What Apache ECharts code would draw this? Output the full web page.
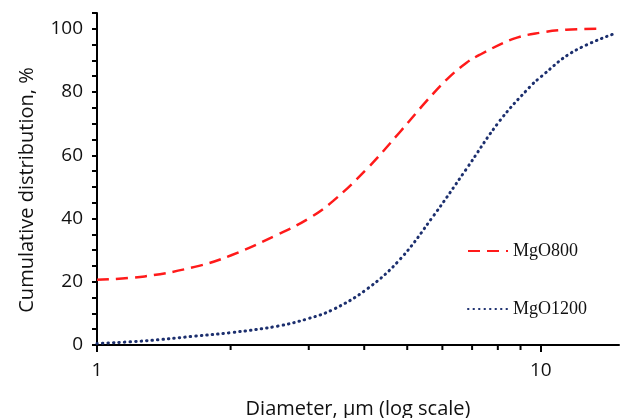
<!DOCTYPE html>
<html>
<head>
<meta charset="utf-8">
<script src="https://cdn.jsdelivr.net/npm/echarts@6/dist/echarts.min.js"></script>
<style>
  html, body { margin: 0; padding: 0; background: #fff; }
  #chart { width: 629px; height: 418px; }
</style>
</head>
<body>
<div id="chart"></div>
<script>
// MgO800
var d800 = [1.00, 1.28, 1.66, 2.00, 2.56, 3.00, 3.40, 4.05, 4.81, 5.53, 6.15, 6.79, 7.29, 8.66, 10.0, 11.4, 13.4]
var v800 = [20.6, 21.7, 24.7, 28.3, 35.0, 40.0, 45.5, 55.6, 67.3, 77.2, 84.1, 89.2, 91.8, 96.8, 98.8, 99.7, 100]
// MgO1200
var d1200 = [1.00, 1.28, 1.66, 2.00, 2.56, 3.00, 3.40, 4.05, 4.81, 5.72, 6.79, 8.08, 9.44, 10.0, 11.8, 14.8]
var v1200 = [0.5, 1.3, 2.8, 3.9, 6.0, 8.4, 11.2, 17.6, 27.0, 40.7, 55.6, 70.9, 81.6, 84.8, 92.7, 98.7]
// minor ticks on the log axis
var minorX = [2, 3, 4, 5, 6, 7, 8, 9]

function pairs(xs, ys) {
  var out = []
  for (var i = 0; i < xs.length; i++) out.push([xs[i], ys[i]])
  return out
}

var sans = '"Open Sans", "DejaVu Sans", sans-serif'
var myChart = echarts.init(document.getElementById('chart'))
var option = {
  animation: false,
  grid: { left: 97, right: 10, top: 13, bottom: 73, outerBoundsMode: 'none' },
  legend: {
    data: ['MgO800', 'MgO1200'],
    orient: 'vertical',
    left: 462,
    top: 237,
    itemWidth: 40,
    itemHeight: 14,
    itemGap: 40,
    itemStyle: { opacity: 0 },
    textStyle: { fontFamily: '"Liberation Serif", serif', fontSize: 18, color: '#111' }
  },
  xAxis: {
    type: 'log',
    logBase: 10,
    min: 1,
    max: 15,
    name: 'Diameter, µm (log scale)',
    nameLocation: 'middle',
    nameGap: 54,
    nameTextStyle: { fontFamily: sans, fontSize: 20, color: '#111' },
    axisLine: { lineStyle: { color: '#000', width: 2 } },
    axisTick: { length: 7, lineStyle: { color: '#000', width: 2 } },
    axisLabel: { fontFamily: sans, fontSize: 19, color: '#111', margin: 16, showMaxLabel: false },
    splitLine: { show: false }
  },
  yAxis: {
    type: 'value',
    min: 0,
    max: 105,
    interval: 5,
    name: 'Cumulative distribution, %',
    nameLocation: 'middle',
    nameGap: 60,
    nameTextStyle: { fontFamily: sans, fontSize: 20, color: '#111', padding: [0, 22, 0, 0] },
    axisLine: { show: true, lineStyle: { color: '#000', width: 2 } },
    axisTick: { show: true, length: 5, lineStyle: { color: '#000', width: 2 } },
    axisLabel: {
      fontFamily: sans, fontSize: 19, color: '#111', margin: 14,
      formatter: function (v) { return v % 20 === 0 ? v : '' }
    },
    splitLine: { show: false }
  },
  series: [
    {
      name: 'MgO800',
      type: 'line',
      smooth: 0.4,
      showSymbol: false,
      symbol: 'none',
      color: '#ff1a1a',
      lineStyle: { color: '#ff1a1a', width: 2.5, type: [12, 7] },
      data: pairs(d800, v800)
    },
    {
      name: 'MgO1200',
      type: 'line',
      smooth: 0.4,
      showSymbol: false,
      symbol: 'none',
      color: '#1c2f6e',
      lineStyle: { color: '#1c2f6e', width: 3, type: [0.5, 5], cap: 'round' },
      data: pairs(d1200, v1200)
    },
    {
      name: 'minorTicks',
      type: 'custom',
      silent: true,
      clip: false,
      data: minorX.map(function (k) { return [k, 0] }),
      renderItem: function (params, api) {
        var p = api.coord([api.value(0), 0])
        return {
          type: 'line',
          shape: { x1: p[0], y1: p[1], x2: p[0], y2: p[1] + 5 },
          style: { stroke: '#000', lineWidth: 2 }
        }
      }
    }
  ]
}
myChart.setOption(option)
</script>
</body>
</html>
